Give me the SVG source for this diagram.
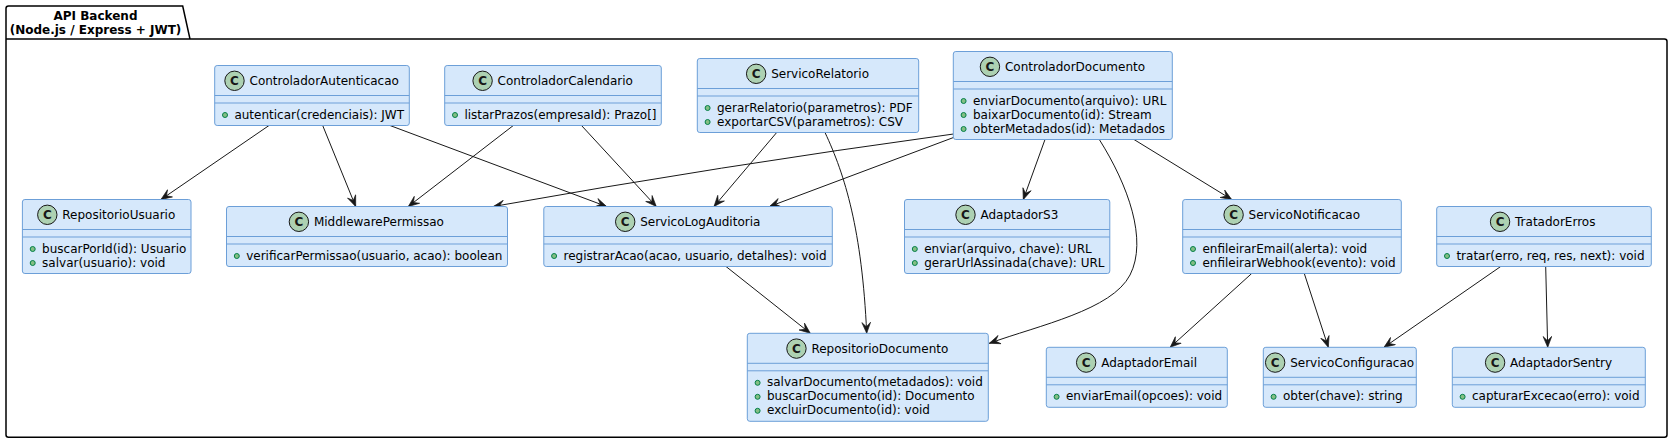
<svg xmlns="http://www.w3.org/2000/svg" width="1673" height="443" viewBox="0 0 1673 443">
<style>
.pkg{fill:none;stroke:#000;stroke-width:1.5}
.ttl{font:bold 12px "DejaVu Sans",sans-serif;fill:#000;text-anchor:middle}
.box{fill:#D6E8FB;stroke:#6C9FD8;stroke-width:1}
.sep{stroke:#6C9FD8;stroke-width:1}
.ci{fill:#ADD1B2;stroke:#181818;stroke-width:1}
.cl{font:bold 12px "DejaVu Sans",sans-serif;fill:#181818;text-anchor:middle}
.nm{font:12px "DejaVu Sans",sans-serif;fill:#000}
.dot{fill:#84BE84;stroke:#038048;stroke-width:1}
.edge{fill:none;stroke:#181818;stroke-width:1;marker-end:url(#arr)}
</style>
<defs>
<marker id="arr" markerUnits="userSpaceOnUse" markerWidth="12" markerHeight="10" viewBox="0 0 11 9" refX="10.5" refY="4.5" orient="auto">
<path d="M10.5,4.5 L0.5,0.5 L4.5,4.5 L0.5,8.5 Z" fill="#181818" stroke="#181818" stroke-width="0.6" stroke-linejoin="miter"/>
</marker>
</defs>
<rect width="1673" height="443" fill="#fff"/>
<g id="package">
<path class="pkg" d="M6,39 V8.5 A2.5,2.5 0 0 1 8.5,6 H182.7 L190,39 Z M6,39 H1664.5 A2.5,2.5 0 0 1 1667,41.5 V434.8 A2.5,2.5 0 0 1 1664.5,437.3 H8.5 A2.5,2.5 0 0 1 6,434.8 Z"/>
<text class="ttl" x="95.5" y="19.5">API Backend</text>
<text class="ttl" x="95.5" y="33.5">(Node.js / Express + JWT)</text>
</g>
<g id="connectors">
<path class="edge" d="M269,125.5 L161,199.5"/>
<path class="edge" d="M322.7,125.5 L355.7,206.5"/>
<path class="edge" d="M390,125.5 L606.6,206.5"/>
<path class="edge" d="M513.3,125.5 L408.3,206.5"/>
<path class="edge" d="M581.5,125.5 L656.3,206.5"/>
<path class="edge" d="M776.7,132.5 L714,206.5"/>
<path class="edge" d="M825,132.5 C845,175 862,230 866.7,333.3"/>
<path class="edge" d="M953.5,134 Q720,166 493.3,206.5"/>
<path class="edge" d="M953.5,137.5 L769.5,206.5"/>
<path class="edge" d="M1045,139.5 L1023.3,199.5"/>
<path class="edge" d="M1099.3,139.5 C1128,185 1148,240 1130,275 C1112,310 1040,325 989.3,343.3"/>
<path class="edge" d="M1134,139.5 L1231.7,199.5"/>
<path class="edge" d="M726,266.5 L810.3,333.3"/>
<path class="edge" d="M1251.7,273.5 L1170.2,347.3"/>
<path class="edge" d="M1304.3,273.5 L1328.3,347.3"/>
<path class="edge" d="M1500.7,266.5 L1384,347.3"/>
<path class="edge" d="M1545.7,266.5 L1547.7,347.3"/>
</g>
<g id="ControladorAutenticacao" transform="translate(214.7,65.5)">
<rect class="box" width="194.6" height="60" rx="2.5"/>
<line class="sep" x1="0" y1="30" x2="194.6" y2="30"/><line class="sep" x1="0" y1="37.5" x2="194.6" y2="37.5"/>
<circle class="ci" cx="19.8" cy="15.3" r="9.7"/><text class="cl" x="19.8" y="19.6">C</text>
<text class="nm" x="34.8" y="19.7">ControladorAutenticacao</text>
<circle class="dot" cx="10.3" cy="49.5" r="2.5"/><text class="nm" x="19.7" y="53">autenticar(credenciais): JWT</text>
</g>
<g id="ControladorCalendario" transform="translate(444.7,65.5)">
<rect class="box" width="216.6" height="60" rx="2.5"/>
<line class="sep" x1="0" y1="30" x2="216.6" y2="30"/><line class="sep" x1="0" y1="37.5" x2="216.6" y2="37.5"/>
<circle class="ci" cx="37.9" cy="15.3" r="9.7"/><text class="cl" x="37.9" y="19.6">C</text>
<text class="nm" x="52.9" y="19.7">ControladorCalendario</text>
<circle class="dot" cx="10.3" cy="49.5" r="2.5"/><text class="nm" x="19.7" y="53">listarPrazos(empresaId): Prazo[]</text>
</g>
<g id="ServicoRelatorio" transform="translate(697.3,58.5)">
<rect class="box" width="221.4" height="74" rx="2.5"/>
<line class="sep" x1="0" y1="30" x2="221.4" y2="30"/><line class="sep" x1="0" y1="37.5" x2="221.4" y2="37.5"/>
<circle class="ci" cx="58.85" cy="15.3" r="9.7"/><text class="cl" x="58.85" y="19.6">C</text>
<text class="nm" x="73.85" y="19.7">ServicoRelatorio</text>
<circle class="dot" cx="10.3" cy="49.5" r="2.5"/><text class="nm" x="19.7" y="53">gerarRelatorio(parametros): PDF</text>
<circle class="dot" cx="10.3" cy="63.5" r="2.5"/><text class="nm" x="19.7" y="67">exportarCSV(parametros): CSV</text>
</g>
<g id="ControladorDocumento" transform="translate(953.3,51.5)">
<rect class="box" width="219" height="88" rx="2.5"/>
<line class="sep" x1="0" y1="30" x2="219" y2="30"/><line class="sep" x1="0" y1="37.5" x2="219" y2="37.5"/>
<circle class="ci" cx="36.65" cy="15.3" r="9.7"/><text class="cl" x="36.65" y="19.6">C</text>
<text class="nm" x="51.65" y="19.7">ControladorDocumento</text>
<circle class="dot" cx="10.3" cy="49.5" r="2.5"/><text class="nm" x="19.7" y="53">enviarDocumento(arquivo): URL</text>
<circle class="dot" cx="10.3" cy="63.5" r="2.5"/><text class="nm" x="19.7" y="67">baixarDocumento(id): Stream</text>
<circle class="dot" cx="10.3" cy="77.5" r="2.5"/><text class="nm" x="19.7" y="81">obterMetadados(id): Metadados</text>
</g>
<g id="RepositorioUsuario" transform="translate(22.4,199.5)">
<rect class="box" width="168.6" height="74" rx="2.5"/>
<line class="sep" x1="0" y1="30" x2="168.6" y2="30"/><line class="sep" x1="0" y1="37.5" x2="168.6" y2="37.5"/>
<circle class="ci" cx="24.9" cy="15.3" r="9.7"/><text class="cl" x="24.9" y="19.6">C</text>
<text class="nm" x="39.9" y="19.7">RepositorioUsuario</text>
<circle class="dot" cx="10.3" cy="49.5" r="2.5"/><text class="nm" x="19.7" y="53">buscarPorId(id): Usuario</text>
<circle class="dot" cx="10.3" cy="63.5" r="2.5"/><text class="nm" x="19.7" y="67">salvar(usuario): void</text>
</g>
<g id="MiddlewarePermissao" transform="translate(226.5,206.5)">
<rect class="box" width="281" height="60" rx="2.5"/>
<line class="sep" x1="0" y1="30" x2="281" y2="30"/><line class="sep" x1="0" y1="37.5" x2="281" y2="37.5"/>
<circle class="ci" cx="72.4" cy="15.3" r="9.7"/><text class="cl" x="72.4" y="19.6">C</text>
<text class="nm" x="87.4" y="19.7">MiddlewarePermissao</text>
<circle class="dot" cx="10.3" cy="49.5" r="2.5"/><text class="nm" x="19.7" y="53">verificarPermissao(usuario, acao): boolean</text>
</g>
<g id="ServicoLogAuditoria" transform="translate(543.8,206.5)">
<rect class="box" width="288.5" height="60" rx="2.5"/>
<line class="sep" x1="0" y1="30" x2="288.5" y2="30"/><line class="sep" x1="0" y1="37.5" x2="288.5" y2="37.5"/>
<circle class="ci" cx="81.4" cy="15.3" r="9.7"/><text class="cl" x="81.4" y="19.6">C</text>
<text class="nm" x="96.4" y="19.7">ServicoLogAuditoria</text>
<circle class="dot" cx="10.3" cy="49.5" r="2.5"/><text class="nm" x="19.7" y="53">registrarAcao(acao, usuario, detalhes): void</text>
</g>
<g id="AdaptadorS3" transform="translate(904.5,199.5)">
<rect class="box" width="205.3" height="74" rx="2.5"/>
<line class="sep" x1="0" y1="30" x2="205.3" y2="30"/><line class="sep" x1="0" y1="37.5" x2="205.3" y2="37.5"/>
<circle class="ci" cx="61" cy="15.3" r="9.7"/><text class="cl" x="61" y="19.6">C</text>
<text class="nm" x="76" y="19.7">AdaptadorS3</text>
<circle class="dot" cx="10.3" cy="49.5" r="2.5"/><text class="nm" x="19.7" y="53">enviar(arquivo, chave): URL</text>
<circle class="dot" cx="10.3" cy="63.5" r="2.5"/><text class="nm" x="19.7" y="67">gerarUrlAssinada(chave): URL</text>
</g>
<g id="ServicoNotificacao" transform="translate(1182.7,199.5)">
<rect class="box" width="218.6" height="74" rx="2.5"/>
<line class="sep" x1="0" y1="30" x2="218.6" y2="30"/><line class="sep" x1="0" y1="37.5" x2="218.6" y2="37.5"/>
<circle class="ci" cx="50.9" cy="15.3" r="9.7"/><text class="cl" x="50.9" y="19.6">C</text>
<text class="nm" x="65.9" y="19.7">ServicoNotificacao</text>
<circle class="dot" cx="10.3" cy="49.5" r="2.5"/><text class="nm" x="19.7" y="53">enfileirarEmail(alerta): void</text>
<circle class="dot" cx="10.3" cy="63.5" r="2.5"/><text class="nm" x="19.7" y="67">enfileirarWebhook(evento): void</text>
</g>
<g id="TratadorErros" transform="translate(1436.7,206.5)">
<rect class="box" width="214.6" height="60" rx="2.5"/>
<line class="sep" x1="0" y1="30" x2="214.6" y2="30"/><line class="sep" x1="0" y1="37.5" x2="214.6" y2="37.5"/>
<circle class="ci" cx="63.35" cy="15.3" r="9.7"/><text class="cl" x="63.35" y="19.6">C</text>
<text class="nm" x="78.35" y="19.7">TratadorErros</text>
<circle class="dot" cx="10.3" cy="49.5" r="2.5"/><text class="nm" x="19.7" y="53">tratar(erro, req, res, next): void</text>
</g>
<g id="RepositorioDocumento" transform="translate(747.3,333.3)">
<rect class="box" width="241" height="88" rx="2.5"/>
<line class="sep" x1="0" y1="30" x2="241" y2="30"/><line class="sep" x1="0" y1="37.5" x2="241" y2="37.5"/>
<circle class="ci" cx="49.15" cy="15.3" r="9.7"/><text class="cl" x="49.15" y="19.6">C</text>
<text class="nm" x="64.15" y="19.7">RepositorioDocumento</text>
<circle class="dot" cx="10.3" cy="49.5" r="2.5"/><text class="nm" x="19.7" y="53">salvarDocumento(metadados): void</text>
<circle class="dot" cx="10.3" cy="63.5" r="2.5"/><text class="nm" x="19.7" y="67">buscarDocumento(id): Documento</text>
<circle class="dot" cx="10.3" cy="77.5" r="2.5"/><text class="nm" x="19.7" y="81">excluirDocumento(id): void</text>
</g>
<g id="AdaptadorEmail" transform="translate(1046.3,347.3)">
<rect class="box" width="181" height="60" rx="2.5"/>
<line class="sep" x1="0" y1="30" x2="181" y2="30"/><line class="sep" x1="0" y1="37.5" x2="181" y2="37.5"/>
<circle class="ci" cx="39.85" cy="15.3" r="9.7"/><text class="cl" x="39.85" y="19.6">C</text>
<text class="nm" x="54.85" y="19.7">AdaptadorEmail</text>
<circle class="dot" cx="10.3" cy="49.5" r="2.5"/><text class="nm" x="19.7" y="53">enviarEmail(opcoes): void</text>
</g>
<g id="ServicoConfiguracao" transform="translate(1263.3,347.3)">
<rect class="box" width="153" height="60" rx="2.5"/>
<line class="sep" x1="0" y1="30" x2="153" y2="30"/><line class="sep" x1="0" y1="37.5" x2="153" y2="37.5"/>
<circle class="ci" cx="11.85" cy="15.3" r="9.7"/><text class="cl" x="11.85" y="19.6">C</text>
<text class="nm" x="26.85" y="19.7">ServicoConfiguracao</text>
<circle class="dot" cx="10.3" cy="49.5" r="2.5"/><text class="nm" x="19.7" y="53">obter(chave): string</text>
</g>
<g id="AdaptadorSentry" transform="translate(1452.3,347.3)">
<rect class="box" width="193" height="60" rx="2.5"/>
<line class="sep" x1="0" y1="30" x2="193" y2="30"/><line class="sep" x1="0" y1="37.5" x2="193" y2="37.5"/>
<circle class="ci" cx="42.8" cy="15.3" r="9.7"/><text class="cl" x="42.8" y="19.6">C</text>
<text class="nm" x="57.8" y="19.7">AdaptadorSentry</text>
<circle class="dot" cx="10.3" cy="49.5" r="2.5"/><text class="nm" x="19.7" y="53">capturarExcecao(erro): void</text>
</g>
</svg>
